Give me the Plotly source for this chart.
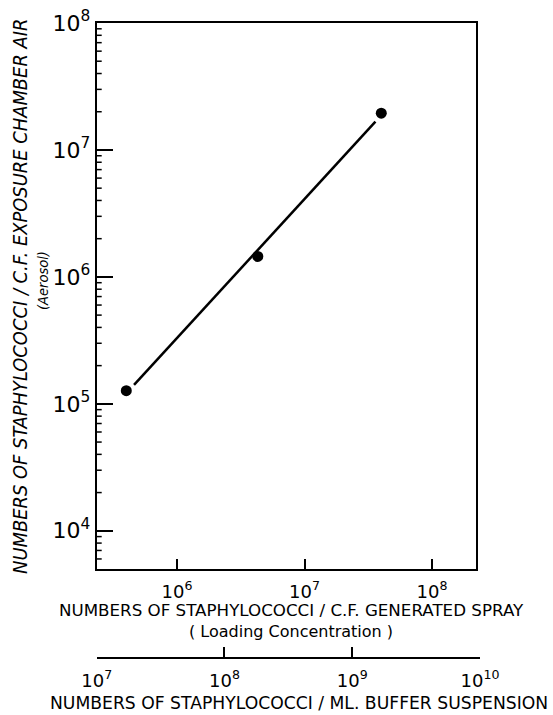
import plotly.graph_objects as go

# ---- data ----
spray_conc = [4.0e5, 4.3e6, 4.0e7]          # staphylococci / c.f. generated spray
aerosol_conc = [1.27e5, 1.45e6, 1.95e7]     # staphylococci / c.f. exposure chamber air
fit_spray = [4.6e5, 3.6e7]                  # fitted line end points
fit_aerosol = [1.41e5, 1.67e7]

y_tick_vals = [1e4, 1e5, 1e6, 1e7, 1e8]
y_tick_text = ["10<sup>4</sup>", "10<sup>5</sup>", "10<sup>6</sup>", "10<sup>7</sup>", "10<sup>8</sup>"]
y_minor_digits = [2, 3, 4, 5, 6, 7, 8, 9]
y_minor_decades = [1e3, 1e4, 1e5, 1e6, 1e7]
x_tick_vals = [1e6, 1e7, 1e8]
x_tick_text = ["10<sup>6</sup>", "10<sup>7</sup>", "10<sup>8</sup>"]
buffer_tick_vals = [1e7, 1e8, 1e9, 1e10]
buffer_tick_text = ["10<sup>7</sup>", "10<sup>8</sup>", "10<sup>9</sup>", "10<sup>10</sup>"]

W, H = 553, 715
FONT = "DejaVu Sans"
Y_RANGE = [3.699, 8.0]
X_DOMAIN = [96.7 / W, 476 / W]
MINOR_LEN_PX = 5

fig = go.Figure()
fig.add_trace(go.Scatter(x=fit_spray, y=fit_aerosol, mode="lines",
                         line=dict(color="black", width=2.5), showlegend=False,
                         hoverinfo="skip"))
fig.add_trace(go.Scatter(x=spray_conc, y=aerosol_conc, mode="markers",
                         marker=dict(color="black", size=11), showlegend=False))
# invisible trace so the buffer-suspension axis is drawn
fig.add_trace(go.Scatter(x=buffer_tick_vals, y=aerosol_conc[:1] * len(buffer_tick_vals),
                         xaxis="x2", yaxis="y", mode="markers",
                         marker=dict(opacity=0), showlegend=False, hoverinfo="skip"))

fig.update_layout(
    width=W, height=H, autosize=False,
    margin=dict(l=0, r=0, t=0, b=0, pad=0, autoexpand=False),
    paper_bgcolor="white", plot_bgcolor="rgba(0,0,0,0)",
    font=dict(family=FONT, color="black"),
    xaxis=dict(
        type="log", range=[5.370, 8.345], domain=X_DOMAIN,
        showline=True, linecolor="black", linewidth=2, mirror=True,
        ticks="inside", ticklen=10, tickwidth=2, tickcolor="black",
        tickmode="array", tickvals=x_tick_vals, ticktext=x_tick_text,
        tickfont=dict(family=FONT, size=18, color="black"), ticklabelstandoff=5,
        showgrid=False, zeroline=False, anchor="y", automargin=False,
    ),
    yaxis=dict(
        type="log", range=Y_RANGE, domain=[1 - 569 / H, 1 - 23 / H],
        showline=True, linecolor="black", linewidth=2, mirror=True,
        ticks="inside", ticklen=16, tickwidth=2, tickcolor="black",
        tickmode="array", tickvals=y_tick_vals, ticktext=y_tick_text,
        tickfont=dict(family=FONT, size=22, color="black"),
        showgrid=False, zeroline=False, anchor="x", automargin=False,
    ),
    xaxis2=dict(
        type="log", range=[7, 10], domain=[96.7 / W, 480 / W],
        anchor="free", position=1 - 658 / H, side="bottom",
        showline=True, linecolor="black", linewidth=2,
        ticks="inside", ticklen=10, tickwidth=2, tickcolor="black",
        tickmode="array", tickvals=buffer_tick_vals, ticktext=buffer_tick_text,
        tickfont=dict(family=FONT, size=18, color="black"), ticklabelstandoff=6,
        showgrid=False, zeroline=False, automargin=False,
    ),
)

# minor log ticks on the left axis (drawn inside the frame)
minor_len = MINOR_LEN_PX / ((X_DOMAIN[1] - X_DOMAIN[0]) * W)
shapes = []
for dec in y_minor_decades:
    for d in y_minor_digits:
        v = d * dec
        if 10 ** Y_RANGE[0] <= v <= 10 ** Y_RANGE[1]:
            shapes.append(dict(type="line", xref="x domain", yref="y",
                               x0=0, x1=minor_len, y0=v, y1=v,
                               line=dict(color="black", width=1.5)))
fig.update_layout(shapes=shapes)

ann = [
    dict(text="NUMBERS OF STAPHYLOCOCCI / C.F. EXPOSURE CHAMBER AIR",
         x=20 / W, y=1 - 297 / H, textangle=-90,
         font=dict(family="DejaVu Sans Condensed", size=19.9, style="italic")),
    dict(text="(Aerosol)", x=43 / W, y=1 - 281 / H, textangle=-90,
         font=dict(family="DejaVu Sans Condensed", size=14.5, style="italic")),
    dict(text="NUMBERS OF STAPHYLOCOCCI / C.F. GENERATED SPRAY",
         x=291 / W, y=1 - 610 / H, font=dict(family=FONT, size=16.7)),
    dict(text="( Loading Concentration )",
         x=291 / W, y=1 - 631.5 / H, font=dict(family=FONT, size=16)),
    dict(text="NUMBERS OF STAPHYLOCOCCI / ML. BUFFER SUSPENSION",
         x=299 / W, y=1 - 703 / H, font=dict(family=FONT, size=17.2)),
]
for a in ann:
    a.update(xref="paper", yref="paper", xanchor="center", yanchor="middle",
             showarrow=False)
    a["font"].setdefault("color", "black")
fig.update_layout(annotations=ann)

fig.write_html("out.html")
